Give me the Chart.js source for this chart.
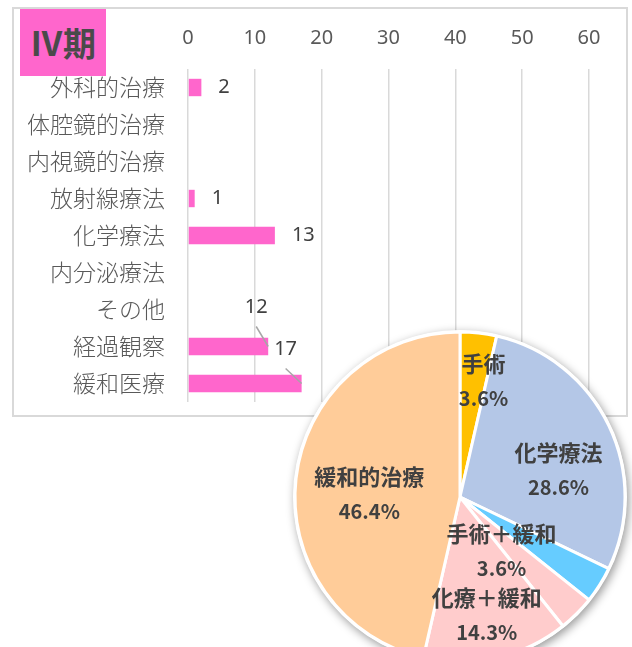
<!DOCTYPE html>
<html>
<head>
<meta charset="utf-8">
<script src="https://cdn.jsdelivr.net/npm/chart.js@4"></script>
<style>
  html, body { margin: 0; padding: 0; width: 632px; height: 647px; overflow: hidden; background: #fff; }
  #frame { position: absolute; left: 12px; top: 7px; width: 616px; height: 410px; box-sizing: border-box; border: 2px solid #d9d9d9; }
  #bar { position: absolute; left: 0; top: 0; }
  #title { position: absolute; left: 20px; top: 9px; width: 86px; height: 67px; background: #ff66cc; color: #4a4a4a;
           font: bold 33px 'Noto Sans CJK JP'; line-height: 67px; text-align: center; }
  #pie { position: absolute; left: 280px; top: 317px; }
</style>
</head>
<body>
<div id="frame"></div>
<canvas id="bar" width="632" height="647"></canvas>
<div id="title">Ⅳ期</div>
<canvas id="pie" width="360" height="360"></canvas>

<script>
// ----- data -----
const categories = ['外科的治療', '体腔鏡的治療', '内視鏡的治療', '放射線療法', '化学療法', '内分泌療法', 'その他', '経過観察', '緩和医療'];
const counts = [2, 0, 0, 1, 13, 0, 0, 12, 17];
const xTicks = [0, 10, 20, 30, 40, 50, 60];

const pieLabels = ['手術', '化学療法', '手術＋緩和', '', '化療＋緩和', '緩和的治療'];
const pieValues = [1, 8, 1, 1, 4, 13];

// ----- styles -----
const pieColors = ['#ffc000', '#b4c7e7', '#66ccff', '#ffcccc', '#ffcccc', '#ffcc99'];
// [fraction of radius, angle nudge in degrees] for each pie label
const pieLabelPlace = [[0.72, 5], [0.62, 10], [0.41, 20], null, [0.73, 0], [0.55, -4]];
// value labels that Excel moved off the bar end, with a leader line
const barLabelShift = { 7: [-12, -39], 8: [-16, -34] };

const barLabels = {
  id: 'barLabels',
  afterDatasetsDraw(chart) {
    const ctx = chart.ctx;
    const meta = chart.getDatasetMeta(0);
    ctx.save();
    ctx.font = "20px 'Noto Sans'";
    ctx.fillStyle = '#404040';
    ctx.textBaseline = 'middle';
    meta.data.forEach((bar, i) => {
      const v = counts[i];
      if (!v) return;
      const shift = barLabelShift[i];
      if (shift) {
        const lx = bar.x + shift[0], ly = bar.y + shift[1];
        ctx.strokeStyle = '#a6a6a6';
        ctx.lineWidth = 1.5;
        ctx.beginPath();
        ctx.moveTo(lx, ly + 19);
        ctx.lineTo(bar.x, bar.y);
        ctx.stroke();
        ctx.textAlign = 'center';
        ctx.fillText(v, lx, ly);
      } else {
        ctx.textAlign = 'left';
        ctx.fillText(v, bar.x + 17, bar.y);
      }
    });
    ctx.restore();
  }
};

new Chart(document.getElementById('bar'), {
  type: 'bar',
  data: {
    labels: categories,
    datasets: [{ data: counts, backgroundColor: '#ff66cc', barPercentage: 0.47, categoryPercentage: 1 }]
  },
  options: {
    indexAxis: 'y',
    responsive: false,
    animation: false,
    layout: { padding: { left: 0, top: 0, right: 43, bottom: 245 } },
    plugins: { legend: { display: false }, tooltip: { enabled: false } },
    scales: {
      x: {
        position: 'top',
        min: 0,
        max: 60,
        afterBuildTicks: s => { s.ticks = xTicks.map(v => ({ value: v })); },
        afterFit: s => { s.height = 69; },
        grid: { color: '#d9d9d9', lineWidth: 1.5, drawTicks: false },
        border: { display: false },
        ticks: { padding: 19, color: '#595959', font: { family: 'Noto Sans', size: 20 } }
      },
      y: {
        afterFit: s => { s.width = 188; },
        grid: { display: false },
        border: { display: false },
        ticks: { padding: 15, color: '#595959', font: { family: 'Noto Sans CJK JP', size: 23, weight: 300 } }
      }
    }
  },
  plugins: [barLabels]
});

const pieShadow = {
  id: 'pieShadow',
  beforeDatasetsDraw(chart) {
    const arc = chart.getDatasetMeta(0).data[0];
    const ctx = chart.ctx;
    ctx.save();
    ctx.shadowColor = 'rgba(0,0,0,0.4)';
    ctx.shadowBlur = 10;
    ctx.shadowOffsetX = 2;
    ctx.shadowOffsetY = 3;
    ctx.fillStyle = '#fff';
    ctx.beginPath();
    ctx.arc(arc.x, arc.y, arc.outerRadius + 2, 0, Math.PI * 2);
    ctx.fill();
    ctx.restore();
  }
};

const pieText = {
  id: 'pieText',
  afterDatasetsDraw(chart) {
    const ctx = chart.ctx;
    const meta = chart.getDatasetMeta(0);
    const total = pieValues.reduce((a, b) => a + b, 0);
    ctx.save();
    ctx.fillStyle = '#404040';
    ctx.textAlign = 'center';
    ctx.textBaseline = 'middle';
    meta.data.forEach((arc, i) => {
      const place = pieLabelPlace[i];
      if (!place || !pieLabels[i]) return;
      const a = (arc.startAngle + arc.endAngle) / 2 + place[1] * Math.PI / 180;
      const r = arc.outerRadius * place[0];
      const x = arc.x + Math.cos(a) * r;
      const y = arc.y + Math.sin(a) * r;
      const pct = (pieValues[i] / total * 100).toFixed(1) + '%';
      ctx.font = "bold 22px 'Noto Sans CJK JP'";
      ctx.fillText(pieLabels[i], x, y - 17);
      ctx.font = "bold 20px 'Noto Sans CJK JP'";
      ctx.fillText(pct, x, y + 18);
    });
    ctx.restore();
  }
};

new Chart(document.getElementById('pie'), {
  type: 'pie',
  data: {
    labels: pieLabels,
    datasets: [{ data: pieValues, backgroundColor: pieColors, borderColor: '#fff', borderWidth: 3, radius: 165 }]
  },
  options: {
    responsive: false,
    animation: false,
    layout: { padding: 0 },
    plugins: { legend: { display: false }, tooltip: { enabled: false } }
  },
  plugins: [pieShadow, pieText]
});
</script>
</body>
</html>
